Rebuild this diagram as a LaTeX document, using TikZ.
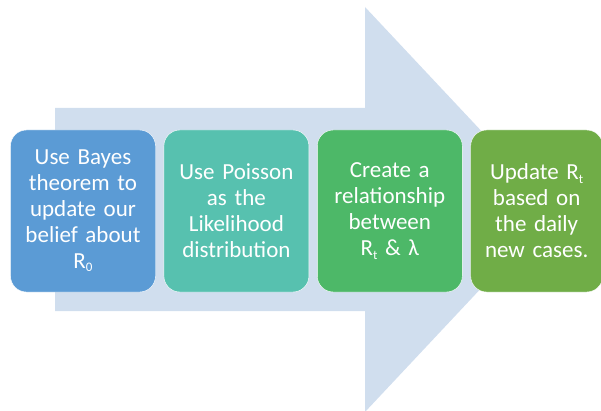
\documentclass[tikz,border=0pt]{standalone}
\usepackage{fontspec}
\setmainfont{Carlito}
\usetikzlibrary{positioning}

\definecolor{arrowblue}{HTML}{D0DEEE}
\definecolor{bayesblue}{HTML}{5B9BD5}
\definecolor{poissonteal}{HTML}{57C1AF}
\definecolor{relgreen}{HTML}{4DB868}
\definecolor{updgreen}{HTML}{70AD47}

% box text: large, with tight word spacing
\newcommand{\stagefont}{\fontsize{23}{26}\selectfont
    \fontdimen2\font=3.2pt\fontdimen3\font=0.5pt\relax}
% lowered index next to R
\newcommand{\lowidx}[1]{\raisebox{-0.3ex}{\fontsize{13}{13}\selectfont #1}}

\begin{document}
\begin{tikzpicture}[
        x=1pt, y=1pt,
        stage/.style={
                rectangle,
                rounded corners=16pt,
                draw=white,
                thin,
                text=white,
                minimum width=145pt,
                minimum height=162pt,
                text width=136pt,
                align=center,
                font=\stagefont
            },
        laststage/.style={
                stage,
                minimum width=132pt,
                text width=124pt
            }
    ]
    \useasboundingbox (0,0) rectangle (601,410);

    % big background arrow
    \fill[arrowblue] (55,302) -- (365,302) -- (365,403) -- (555,200.5)
        -- (365,-2) -- (365,99) -- (55,99) -- cycle;

    \node[stage, fill=bayesblue] (bayes) at (83,199)
        {Use Bayes\\theorem to\\update our\\belief about\\R\lowidx{0}};
    \node[stage, fill=poissonteal] (poisson) [right=8pt of bayes]
        {Use Poisson\\as the\\Likelihood\\distribution};
    \node[stage, fill=relgreen] (relation) [right=8pt of poisson]
        {Create a\\relationship\\between\\R\lowidx{t} \& λ};
    \node[laststage, fill=updgreen] (update) [right=8pt of relation]
        {Update R\lowidx{t}\\based on\\the daily\\new cases.};
\end{tikzpicture}
\end{document}
